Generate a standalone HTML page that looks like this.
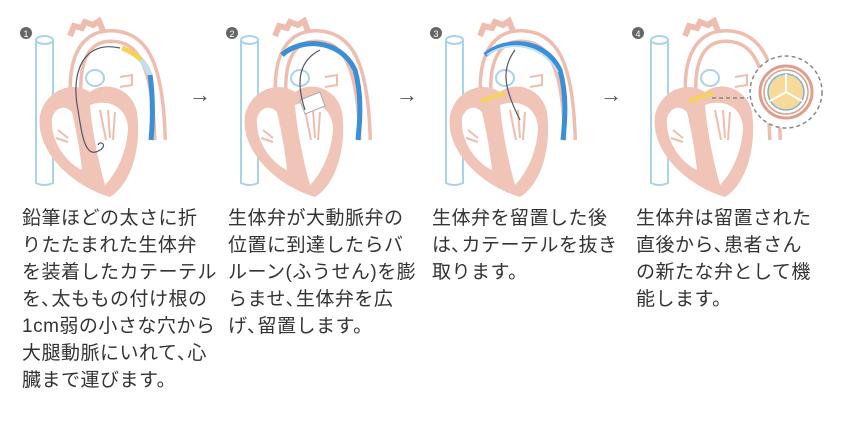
<!DOCTYPE html>
<html><head><meta charset="utf-8"><style>
body{margin:0;width:843px;height:428px;background:#fff;overflow:hidden;position:relative;font-family:"Liberation Sans","Noto Sans CJK JP",sans-serif;color:#333}
.t{position:absolute;top:205px;font-size:19px;line-height:27px;white-space:nowrap;letter-spacing:0.5px}
.ar{position:absolute;top:82px;font-size:22px;color:#555}
svg{position:absolute;left:0;top:0}
</style></head><body>
<svg width="843" height="200" viewBox="0 0 843 200">
<defs>
<g id="h">
 <path d="M36,40 L36,183 Q44,187 53,183 L53,40" fill="#fff" stroke="#a9d3e6" stroke-width="2"/>
 <ellipse cx="44.5" cy="40" rx="8.5" ry="4" fill="#fff" stroke="#a9d3e6" stroke-width="2"/>
 <path d="M78,115 C70,65 82,35 112,36 C142,37 158,62 160,140" fill="none" stroke="#efbdb0" stroke-width="14"/>
 <path d="M78,115 C70,65 82,35 112,36 C142,37 158,62 160,140" fill="none" stroke="#fff" stroke-width="7"/>
 <path d="M70,36 l4,-10 l8,2 l3,-6 l8,3 l6,-4 l4,10" fill="none" stroke="#efbdb0" stroke-width="6"/>
 <path d="M40,115 C35,150 70,185 110,197 C130,185 142,150 137,112 C132,88 105,80 90,92 C72,80 46,90 40,115 Z" fill="#f1c4b8"/>
 <path d="M52,118 C50,145 70,165 82,170 C80,150 76,130 72,112 C64,104 55,108 52,118 Z" fill="#fff"/>
 <path d="M90,105 C110,98 128,108 128,130 C126,155 115,175 105,185 C98,160 92,130 90,105 Z" fill="#fff"/>
 <path d="M100,110 l6,30 M108,110 l2,28 M115,112 l-2,28" stroke="#efbdb0" stroke-width="2"/>
 <path d="M58,130 l10,8 M56,138 l12,4" stroke="#efbdb0" stroke-width="2"/>
 <ellipse cx="95" cy="78" rx="9" ry="8" fill="#fff" stroke="#a9d3e6" stroke-width="2"/>
 <path d="M120,77 l12,-2 l0,10 l-12,2" fill="#fff" stroke="#efbdb0" stroke-width="2"/>
</g>
</defs>
<circle cx="26" cy="33" r="6" fill="#666"/><text x="26" y="37" font-size="9" fill="#fff" text-anchor="middle" font-family="Liberation Sans">1</text>
<circle cx="232" cy="33" r="6" fill="#666"/><text x="232" y="37" font-size="9" fill="#fff" text-anchor="middle" font-family="Liberation Sans">2</text>
<circle cx="436" cy="33" r="6" fill="#666"/><text x="436" y="37" font-size="9" fill="#fff" text-anchor="middle" font-family="Liberation Sans">3</text>
<circle cx="638" cy="33" r="6" fill="#666"/><text x="638" y="37" font-size="9" fill="#fff" text-anchor="middle" font-family="Liberation Sans">4</text>

<use href="#h" x="0"/>
<path d="M122,48 C137,54 146,62 150,75" fill="none" stroke="#f3d35a" stroke-width="5"/>
<path d="M141,60 C146,66 148,70 150,75" fill="none" stroke="#bfe0f2" stroke-width="5"/>
<path d="M150,75 C153,95 153,120 151,140" fill="none" stroke="#3b8fd6" stroke-width="5"/>
<path d="M120,48 C85,40 70,70 78,110 C82,135 85,160 100,150 C108,145 100,140 98,145" fill="none" stroke="#556" stroke-width="1.2"/>

<use href="#h" x="205"/>
<path d="M282,55 C300,38 340,38 355,70 C362,95 360,120 358,140" fill="none" stroke="#3b8fd6" stroke-width="5"/>
<path d="M300,100 l20,-8 l5,14 l-20,8 Z" fill="#fff" stroke="#aaa" stroke-width="1"/>
<path d="M305,110 C295,80 300,60 320,50" fill="none" stroke="#556" stroke-width="1.2"/>

<use href="#h" x="410"/>
<path d="M485,55 C505,38 545,38 560,70 C567,95 565,120 563,140" fill="none" stroke="#3b8fd6" stroke-width="5"/>
<path d="M487,55 C505,42 540,40 558,72" fill="none" stroke="#bfe0f2" stroke-width="2"/>
<circle cx="484" cy="100" r="3" fill="#f3d35a"/><circle cx="490" cy="98" r="3" fill="#f3d35a"/><circle cx="496" cy="96" r="3" fill="#f3d35a"/><circle cx="502" cy="94" r="3" fill="#f3d35a"/>
<path d="M520,120 C505,90 500,70 515,50" fill="none" stroke="#556" stroke-width="1.2"/>

<use href="#h" x="615"/>
<circle cx="692" cy="100" r="3" fill="#f3d35a"/><circle cx="698" cy="98" r="3" fill="#f3d35a"/><circle cx="704" cy="96" r="3" fill="#f3d35a"/><circle cx="710" cy="94" r="3" fill="#f3d35a"/>
<line x1="712" y1="98" x2="748" y2="98" stroke="#888" stroke-width="1.5" stroke-dasharray="4,3"/>
<circle cx="786" cy="92" r="36" fill="#fff" stroke="#888" stroke-width="1.5" stroke-dasharray="4,3"/>
<circle cx="786" cy="92" r="26" fill="#fff" stroke="#e19d8c" stroke-width="3"/>
<circle cx="786" cy="92" r="22" fill="none" stroke="#e19d8c" stroke-width="1.5"/>
<circle cx="786" cy="92" r="18" fill="#f7d99a" stroke="#7fb3d6" stroke-width="1.5"/>
<path d="M786,92 L786,74 M786,92 L770,101 M786,92 L802,101" stroke="#fff" stroke-width="2"/>
</svg>
<div class="ar" style="left:189px">→</div>
<div class="ar" style="left:396px">→</div>
<div class="ar" style="left:600px">→</div>
<div class="t" style="left:22px">鉛筆ほどの太さに折<br>りたたまれた生体弁<br>を装着したカテーテル<br>を､太ももの付け根の<br>1cm弱の小さな穴から<br>大腿動脈にいれて､心<br>臓まで運びます。</div>
<div class="t" style="left:228px">生体弁が大動脈弁の<br>位置に到達したらバ<br>ルーン(ふうせん)を膨<br>らませ､生体弁を広<br>げ､留置します。</div>
<div class="t" style="left:432px">生体弁を留置した後<br>は､カテーテルを抜き<br>取ります。</div>
<div class="t" style="left:636px">生体弁は留置された<br>直後から､患者さん<br>の新たな弁として機<br>能します。</div>
</body></html>
